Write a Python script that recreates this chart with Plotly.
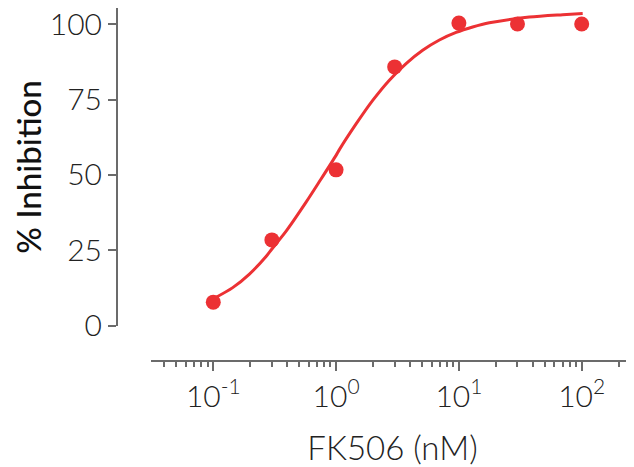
import plotly.graph_objects as go

# Measured data points
conc = [0.1, 0.3, 1, 3, 10, 30, 100]
inhibition = [7.9, 28.5, 51.7, 85.8, 100.3, 100.0, 100.0]

# Fitted curve
curve_x = [0.102, 0.144, 0.197, 0.269, 0.3, 0.392, 0.57, 0.75, 1.0, 1.064, 1.455, 1.987, 2.716,
           3.716, 5.07, 6.94, 9.49, 12.95, 17.7, 37.5, 70.0, 101.9]
curve_y = [9.2, 12.7, 17.2, 23.0, 25.5, 31.4, 41.0, 48.5, 56.5, 58.4, 66.9, 74.7, 81.4,
           86.9, 91.3, 94.7, 97.2, 99.0, 100.4, 102.3, 103.1, 103.5]

x_tickvals = [0.1, 1, 10, 100]
x_ticktext = ["10<sup>-1</sup>", "10<sup>0</sup>", "10<sup>1</sup>", "10<sup>2</sup>"]
y_tickvals = [0, 25, 50, 75, 100]

RED = "#ec3134"
AX = "#6b6b6b"

minor_vals = [m * 10 ** e for e in range(-2, 3) for m in range(2, 10)]

fig = go.Figure()
fig.add_trace(go.Scatter(x=curve_x, y=curve_y, mode="lines",
                         line=dict(color=RED, width=3, shape="spline", smoothing=0.8),
                         hoverinfo="skip", showlegend=False))
fig.add_trace(go.Scatter(x=conc, y=inhibition, mode="markers", marker=dict(color=RED, size=15),
                         showlegend=False))

fig.update_layout(
    width=626, height=459,
    margin=dict(l=109, r=0, t=0, b=106),
    paper_bgcolor="white", plot_bgcolor="white",
    font=dict(family="Lato", color="#222222"),
    xaxis=dict(
        type="log", range=[-1.507, 2.426], domain=[0.0658, 1],
        tickmode="array", tickvals=x_tickvals, ticktext=x_ticktext,
        ticks="outside", ticklen=9, tickwidth=2, tickcolor=AX,
        showline=True, linecolor=AX, linewidth=2,
        showgrid=False, zeroline=False,
        anchor="free", position=0,
        ticklabeloverflow="allow",
        tickfont=dict(family="Lato", size=30, weight=300, color="#222222"),
        minor=dict(tickmode="array", tickvals=minor_vals, ticks="outside", ticklen=5,
                   tickwidth=1.5, tickcolor=AX, showgrid=False),
        title=dict(text="FK506 (nM)", font=dict(family="Lato", size=33, weight=300, color="#222222"),
                   standoff=30),
        automargin=False,
    ),
    yaxis=dict(
        range=[0, 105.3], domain=[0.0992, 1],
        tickmode="array", tickvals=y_tickvals,
        ticks="outside", ticklen=8, tickwidth=2, tickcolor=AX,
        showline=True, linecolor=AX, linewidth=2,
        showgrid=False, zeroline=False,
        anchor="free", position=0,
        ticklabeloverflow="allow",
        tickfont=dict(family="Lato", size=30, weight=300, color="#222222"),
        title=dict(text="% Inhibition", font=dict(family="Lato", size=33, weight=500, color="#111111"),
                   standoff=0),
        automargin=False,
    ),
)

fig.write_html("out.html")
